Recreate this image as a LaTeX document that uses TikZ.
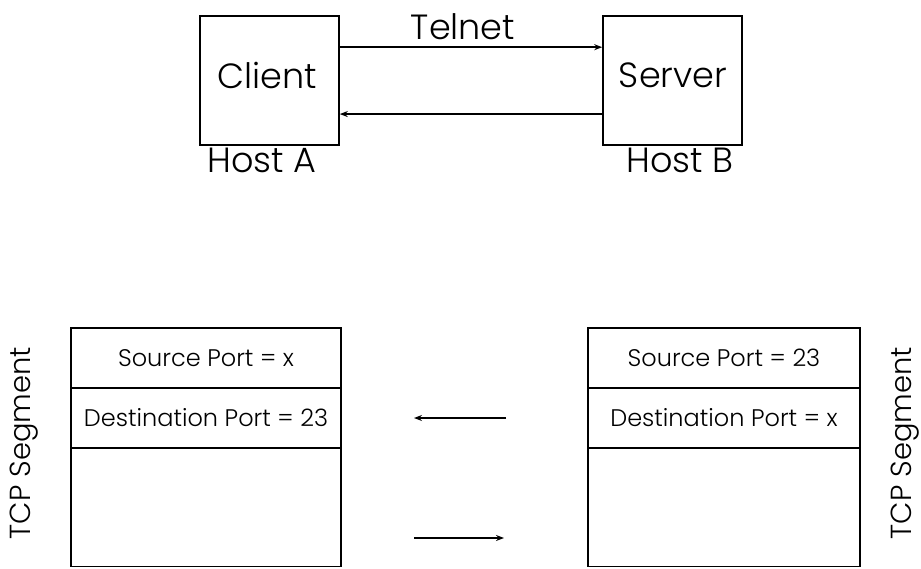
\documentclass[tikz,border=0pt]{standalone}
\usepackage{fontspec}
\setmainfont{Poppins}[UprightFont=* Light]
\usetikzlibrary{calc,arrows.meta}
\begin{document}
\begin{tikzpicture}[x=1pt,y=-1pt,
  box/.style={draw,line width=1.6pt,minimum width=139pt,minimum height=129pt,inner sep=0pt},
  big/.style={font=\fontsize{35}{37}\selectfont},
  small/.style={font=\fontsize{24}{26}\selectfont},
  vert/.style={font=\fontsize{29}{31}\selectfont,rotate=90,inner sep=0pt},
  field/.style={draw,line width=1.6pt,inner sep=0pt,minimum width=#1},
  arr/.style={line width=1.6pt,-{Stealth[length=8pt,width=6pt]}}]
\useasboundingbox (0,0) rectangle (921,569);
% top
\node[box] (client) at (269.5,80.5) {};
\node[box] (server) at (672.5,80.5) {};
\node[big] (clienttxt) at (267,75) {Client};
\node[big] (servertxt) at (673,75) {Server};
\node[big] (hosta) at (262,160) {Host A};
\node[big] (hostb) at (680,160) {Host B};
\node[big] (telnet) at (463,27) {Telnet};
\draw[arr] ($(client.north east)!0.245!(client.south east)$) -- ($(server.north west)!0.245!(server.south west)$);
\draw[arr] ($(server.north west)!0.757!(server.south west)$) -- ($(client.north east)!0.757!(client.south east)$);
% bottom left
\node[field=270pt,minimum height=60pt,small] (lsrc) at (206,358) {Source Port = x};
\node[field=270pt,minimum height=60pt,small] (ldst) at (206,418) {Destination Port = 23};
\node[field=270pt,minimum height=119pt] (ldata) at (206,507) {};
% bottom right
\node[field=272pt,minimum height=60pt,small] (rsrc) at (724,358) {Source Port = 23};
\node[field=272pt,minimum height=60pt,small] (rdst) at (724,418) {Destination Port = x};
\node[field=272pt,minimum height=119pt] (rdata) at (724,507) {};
% labels
\node[vert] (ltcp) at (24,443) {TCP Segment};
\node[vert] (rtcp) at (905,443) {TCP Segment};
% middle arrows
\coordinate (a1s) at (506,418);
\coordinate (a1e) at (414,418);
\coordinate (a2s) at (414,538);
\coordinate (a2e) at (504,538);
\draw[arr] (a1s) -- (a1e);
\draw[arr] (a2s) -- (a2e);
\end{tikzpicture}
\end{document}
